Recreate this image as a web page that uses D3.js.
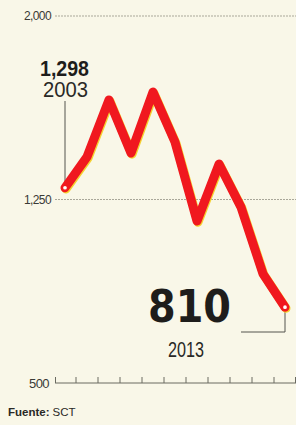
<!DOCTYPE html>
<html><head><meta charset="utf-8">
<script src="https://cdn.jsdelivr.net/npm/d3@7"></script>
<style>
html,body{margin:0;padding:0;background:#f9f7e8;}
svg{display:block;font-family:"Liberation Sans",Arial,sans-serif;}
</style></head>
<body>
<script>
const years = [2003,2004,2005,2006,2007,2008,2009,2010,2011,2012,2013];
const values = [1298,1424,1657,1440,1689,1485,1162,1395,1219,946,810];
const gridTicks = [2000,1250,500];
const tickLabels = ["2,000","1,250","500"];
const source = ["Fuente:","SCT"];

const W = 296, H = 425;
const svg = d3.select("body").append("svg").attr("width",W).attr("height",H);
svg.append("rect").attr("width",W).attr("height",H).attr("fill","#f9f7e8");

const x = d3.scaleBand().domain(years).range([54,296]).padding(0);
const y = d3.scaleLinear().domain([500,2000]).range([383,16]);
const cx = d => x(d) + x.bandwidth()/2;

// gridlines
gridTicks.forEach((t,i)=>{
  if(t!==500){
    svg.append("line").attr("x1",55).attr("x2",296).attr("y1",y(t)).attr("y2",y(t))
      .attr("stroke","#a9a799").attr("stroke-width",1).attr("stroke-dasharray","2,1");
  }
  svg.append("text").attr("x", t===500?49:51).attr("y",y(t)).attr("dy","0.35em")
    .attr("text-anchor","end").attr("fill","#3a3a36")
    .attr("font-size", t===500?13:12).attr("letter-spacing","-0.6")
    .text(tickLabels[i]);
});

// baseline axis with ticks at band edges
const gAxis = svg.append("g").attr("transform",`translate(0,${y(500)})`);
gAxis.append("line").attr("x1",55).attr("x2",296).attr("stroke","#6a6a60").attr("stroke-width",1);
const edges = years.map(d=>x(d)).concat([x(years[years.length-1])+x.bandwidth()]);
gAxis.selectAll("line.tk").data(edges).enter().append("line").attr("class","tk")
  .attr("x1",d=>Math.min(Math.max(d,55.5),295.5)).attr("x2",d=>Math.min(Math.max(d,55.5),295.5))
  .attr("y1",0).attr("y2",-6).attr("stroke","#6a6a60").attr("stroke-width",1);

// leader lines
const first = {x:cx(years[0]), y:y(values[0])};
const last = {x:cx(years[10]), y:y(values[10])};
svg.append("line").attr("x1",first.x).attr("x2",first.x).attr("y1",101).attr("y2",first.y-4)
  .attr("stroke","#55554e").attr("stroke-width",1);
svg.append("path").attr("d",`M${last.x},${last.y+4}V332H241`).attr("fill","none")
  .attr("stroke","#55554e").attr("stroke-width",1);

// line
const line = d3.line().x((d,i)=>cx(years[i])).y(d=>y(d));
svg.append("path").datum(values).attr("d",line).attr("fill","none")
  .attr("stroke","#f5d230").attr("stroke-width",9).attr("stroke-linejoin","round")
  .attr("stroke-linecap","round").attr("transform","translate(1,1.2)");
svg.append("path").datum(values).attr("d",line).attr("fill","none")
  .attr("stroke","#f0181f").attr("stroke-width",9).attr("stroke-linejoin","round")
  .attr("stroke-linecap","round");
[0,10].forEach(i=>{
  svg.append("circle").attr("cx",cx(years[i])).attr("cy",y(values[i])).attr("r",2.6)
    .attr("fill","#fff").attr("stroke","#f0181f").attr("stroke-width",1.5);
});

// annotations
const fmt = d3.format(",");
svg.append("text").attr("x",89).attr("y",76).attr("text-anchor","end")
  .attr("font-size",22).attr("font-weight","bold").attr("fill","#1e1d1b")
  .attr("textLength",49).attr("lengthAdjust","spacingAndGlyphs").text(fmt(values[0]));
svg.append("text").attr("x",88).attr("y",97).attr("text-anchor","end")
  .attr("font-size",22).attr("fill","#2a2926")
  .attr("textLength",45).attr("lengthAdjust","spacingAndGlyphs").text(years[0]);
svg.append("text").attr("x",148).attr("y",322)
  .attr("font-family","'DejaVu Sans',sans-serif")
  .attr("font-size",45).attr("font-weight","bold").attr("fill","#1e1d1b")
  .attr("textLength",83).attr("lengthAdjust","spacingAndGlyphs").text(fmt(values[10]));
svg.append("text").attr("x",168).attr("y",357)
  .attr("font-size",22).attr("fill","#2a2926")
  .attr("textLength",36).attr("lengthAdjust","spacingAndGlyphs").text(years[10]);

// source
const s1 = svg.append("text").attr("x",8).attr("y",416).attr("font-size",11.5)
  .attr("font-weight","bold").attr("fill","#2a2926").text(source[0]);
const w1 = s1.node().getComputedTextLength();
svg.append("text").attr("x",8+w1+3).attr("y",416).attr("font-size",11.5)
  .attr("fill","#2a2926").text(source[1]);
</script>
</body></html>
